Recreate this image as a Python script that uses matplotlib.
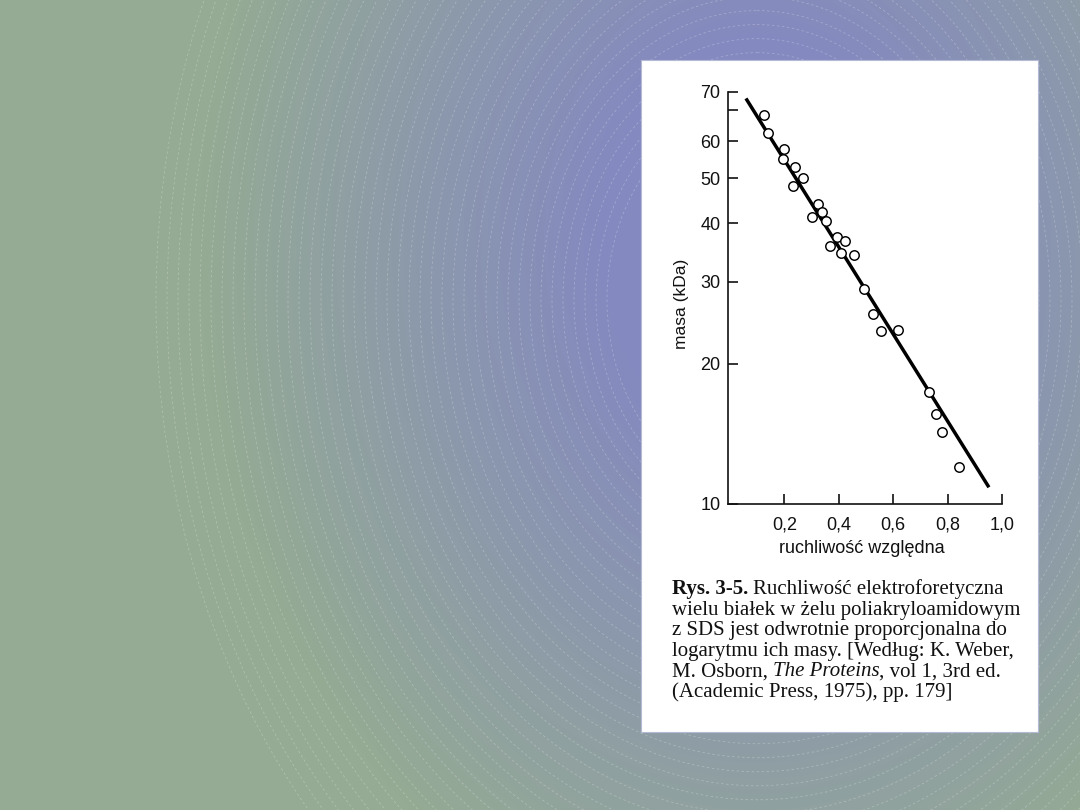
import numpy as np
import matplotlib
matplotlib.use("Agg")
import matplotlib.pyplot as plt
from matplotlib.patches import Rectangle, Ellipse
from matplotlib.ticker import FixedLocator, FixedFormatter, NullFormatter

# ---------------- data ----------------
mobility = [0.124, 0.139, 0.200, 0.195, 0.240, 0.268, 0.232, 0.324, 0.340, 0.303,
            0.352, 0.394, 0.424, 0.369, 0.409, 0.455, 0.493, 0.525, 0.555, 0.617,
            0.733, 0.757, 0.778, 0.843]
mass_kda = [68.4, 62.4, 57.8, 54.9, 52.9, 50.0, 48.1, 44.0, 42.3, 41.3,
            40.5, 37.4, 36.6, 35.7, 34.6, 34.3, 29.0, 25.6, 23.5, 23.6,
            17.4, 15.6, 14.3, 12.0]
fit_x = [0.059, 0.952]
fit_y = [74.2, 10.86]

x_ticks = [0.2, 0.4, 0.6, 0.8, 1.0]
x_tick_labels = ["0,2", "0,4", "0,6", "0,8", "1,0"]
y_axis_top = 76.6
y_ticks = [10, 20, 30, 40, 50, 60, y_axis_top]
y_tick_labels = ["10", "20", "30", "40", "50", "60", "70"]
y_minor_ticks = [70]

x_label = "ruchliwość względna"
y_label = "masa (kDa)"

caption_lines = [
    [("Rys. 3-5.", "bold", "normal", True), ("Ruchliwość elektroforetyczna", "normal", "normal", False)],
    [("wielu białek w żelu poliakryloamidowym", "normal", "normal", False)],
    [("z SDS jest odwrotnie proporcjonalna do", "normal", "normal", False)],
    [("logarytmu ich masy. [Według: K. Weber,", "normal", "normal", False)],
    [("M. Osborn,", "normal", "normal", True), ("The Proteins", "normal", "italic", False),
     (", vol 1, 3rd ed.", "normal", "normal", False)],
    [("(Academic Press, 1975), pp. 179]", "normal", "normal", False)],
]

# ---------------- figure ----------------
W, H = 1080, 810
fig = plt.figure(figsize=(W / 100, H / 100), dpi=100)

# background slide
ax_bg = fig.add_axes([0, 0, 1, 1])
ax_bg.set_xlim(0, W)
ax_bg.set_ylim(H, 0)
ax_bg.axis("off")

cx, cy = 757, 300
yy, xx = np.mgrid[0:H, 0:W]
t = np.sqrt(((xx - cx) / 600.0) ** 2 + ((yy - cy + 60) / 780.0) ** 2)
t = np.clip((t - 0.25) / 0.68, 0, 1)[..., None]
purple = np.array([132, 137, 192]) / 255.0
green = np.array([149, 171, 147]) / 255.0
img = purple * (1 - t) + green * t
ax_bg.imshow(img, extent=(0, W, H, 0), zorder=0, interpolation="bilinear")

for a in np.arange(150, 610, 11):
    ax_bg.add_patch(Ellipse((cx, cy), 2 * a, 2 * a * 1.275, fill=False,
                            edgecolor="white", alpha=0.25, lw=0.6,
                            linestyle=(0, (3, 3)), zorder=1))

# white panel
ax_bg.add_patch(Rectangle((641, 60), 397, 672, facecolor="white",
                          edgecolor="#b4bad4", lw=0.8, zorder=2))

# caption text
renderer = fig.canvas.get_renderer()
cap_size = 15
cap_family = "Liberation Serif"


def text_width(s, weight="normal", style="normal"):
    tt = ax_bg.text(0, 0, s, fontsize=cap_size, family=cap_family,
                    weight=weight, style=style)
    w = tt.get_window_extent(renderer).width
    tt.remove()
    return w


space_w = text_width("n n") - text_width("nn")
x0 = 671.5
baselines = [594, 614.6, 635.2, 655.8, 676.4, 697]
for line, base in zip(caption_lines, baselines):
    xpos = x0
    for s, weight, style, space_after in line:
        ax_bg.text(xpos, base, s, fontsize=cap_size, family=cap_family,
                   weight=weight, style=style, ha="left", va="baseline",
                   color="#111111", zorder=3)
        xpos += text_width(s, weight, style)
        if space_after:
            xpos += space_w

# ---------------- chart ----------------
ax = fig.add_axes([728 / W, (H - 504) / H, 274 / W, 412 / H])
ax.set_facecolor("none")
ax.set_yscale("log")
ax.set_xlim(-0.007, 1.0)
ax.set_ylim(10, y_axis_top)

ax.plot(fit_x, fit_y, color="black", lw=2.5, solid_capstyle="butt", zorder=2)
ax.plot(mobility, mass_kda, linestyle="none", marker="o", markersize=6.8,
        markerfacecolor="white", markeredgecolor="black", markeredgewidth=1.05,
        zorder=3)

for side in ("top", "right"):
    ax.spines[side].set_visible(False)
for side in ("left", "bottom"):
    ax.spines[side].set_linewidth(1.2)
    ax.spines[side].set_color("#111111")

ax.xaxis.set_major_locator(FixedLocator(x_ticks))
ax.xaxis.set_major_formatter(FixedFormatter(x_tick_labels))
ax.xaxis.set_minor_locator(FixedLocator([]))
ax.yaxis.set_major_locator(FixedLocator(y_ticks))
ax.yaxis.set_major_formatter(FixedFormatter(y_tick_labels))
ax.yaxis.set_minor_locator(FixedLocator(y_minor_ticks))
ax.yaxis.set_minor_formatter(NullFormatter())

ax.tick_params(axis="both", which="both", direction="in", length=7.5,
               width=1.2, color="#111111")
ax.tick_params(axis="x", labelsize=13, pad=9)
ax.tick_params(axis="y", labelsize=13, pad=5.5)
for lab in ax.get_xticklabels() + ax.get_yticklabels():
    lab.set_family("Liberation Sans")
    lab.set_color("#111111")

ax.set_xlabel(x_label, fontsize=13, family="Liberation Sans", color="#111111",
              va="center")
ax.xaxis.set_label_coords(0.489, -0.107)
ax.set_ylabel(y_label, fontsize=12.5, family="Liberation Sans", color="#111111",
              va="center")
ax.yaxis.set_label_coords(-0.168, 0.485)

fig.savefig("out.png", dpi=100)
